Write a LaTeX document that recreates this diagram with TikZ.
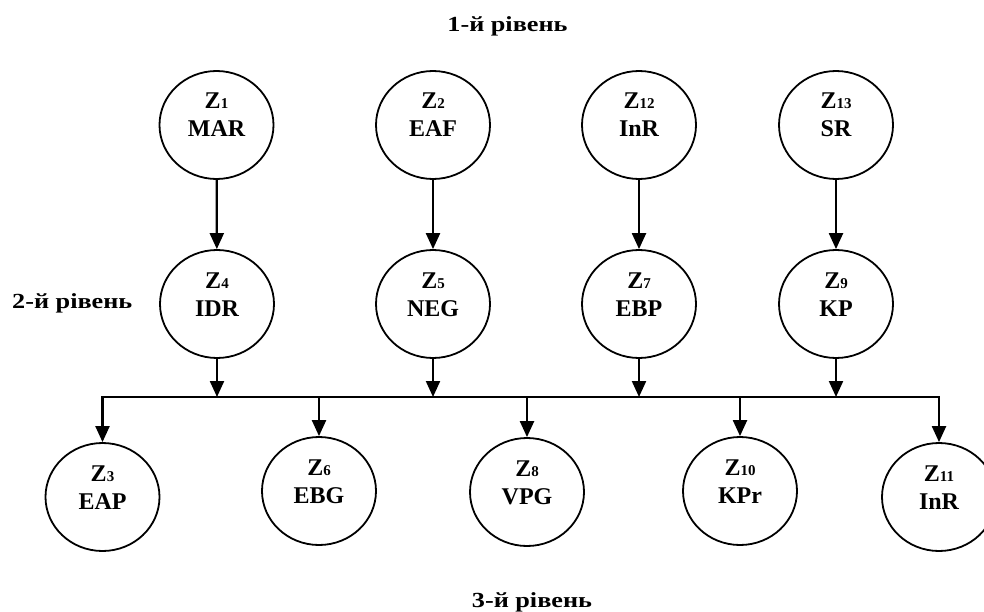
\documentclass[tikz,border=0pt]{standalone}
\usepackage{fontspec}
\setmainfont{Liberation Serif}
\newfontfamily\lblfont[FakeStretch=1.22]{Liberation Serif}
\usetikzlibrary{arrows.meta,shapes.geometric}
\newcommand\mkzone[5]{%
  \node[zc] (#1) at (#2,#3) {};
  \node[zt] (#1a) at ([yshift=16pt]#1.center) {Z{\fontsize{15}{15}\selectfont #4}};
  \node[zt] (#1b) at ([yshift=-12pt]#1.center) {#5};}
\begin{document}
\begin{tikzpicture}[x=1pt,y=-1pt,
  zc/.style={draw, line width=1.8pt, ellipse, minimum width=114pt, minimum height=108pt, inner sep=0pt},
  zt/.style={anchor=base, inner sep=0pt, font=\fontsize{24}{24}\selectfont\bfseries},
  lvl/.style={anchor=base, inner sep=0pt, font=\lblfont\fontsize{21.5}{21.5}\selectfont\bfseries},
  arr/.style={line width=2.2pt, -{Triangle[length=16pt,width=14pt]}},
  ln/.style={line width=2.2pt, line cap=rect}]
\useasboundingbox (0,0) rectangle (984,612);
% level 1
\mkzone{z1}{216.5}{125}{1}{MAR}
\mkzone{z2}{433}{125}{2}{EAF}
\mkzone{z12}{639}{125}{12}{InR}
\mkzone{z13}{836}{125}{13}{SR}
% level 2
\mkzone{z4}{217}{304}{4}{IDR}
\mkzone{z5}{433}{304}{5}{NEG}
\mkzone{z7}{639}{304}{7}{EBP}
\mkzone{z9}{836}{304}{9}{KP}
% level 3
\mkzone{z3}{102.5}{497}{3}{EAP}
\mkzone{z6}{319}{491}{6}{EBG}
\mkzone{z8}{527}{492}{8}{VPG}
\mkzone{z10}{740}{491}{10}{KPr}
\mkzone{z11}{939}{497}{11}{InR}
% connectors level 1 -> 2
\draw[arr] (z1) -- (z4);
\draw[arr] (z2) -- (z5);
\draw[arr] (z12) -- (z7);
\draw[arr] (z13) -- (z9);
% bus
\coordinate (bus) at (0,397);
\draw[ln] (z3.north |- bus) -- (z11.north |- bus);
\foreach \m in {z4,z5,z7,z9}{\draw[arr] (\m.south) -- (\m.south |- bus);}
\foreach \b in {z3,z6,z8,z10,z11}{\draw[arr] (\b.north |- bus) -- (\b.north);}
% level labels
\node[lvl] (l1) at (507.5,32) {1-й рівень};
\node[lvl, anchor=base west] (l2) at (12,308) {2-й рівень};
\node[lvl] (l3) at (532,607) {3-й рівень};
\end{tikzpicture}
\end{document}
